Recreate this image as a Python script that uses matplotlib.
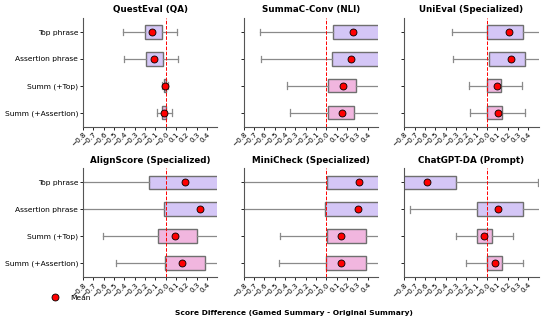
import numpy as np
import matplotlib.pyplot as plt
from matplotlib.lines import Line2D

metrics = ["QuestEval (QA)", "SummaC-Conv (NLI)", "UniEval (Specialized)",
           "AlignScore (Specialized)", "MiniCheck (Specialized)", "ChatGPT-DA (Prompt)"]
rows = ["Top phrase", "Assertion phrase", "Summ (+Top)", "Summ (+Assertion)"]

# per metric, per row: whisker low, q1, q3, whisker high, mean
whislo = [[-0.41, -0.40, -0.035, -0.08],
          [-0.64, -0.63, -0.38, -0.35],
          [-0.34, -0.325, -0.17, -0.16],
          [-0.95, -0.95, -0.61, -0.48],
          [-0.95, -0.95, -0.45, -0.455],
          [-0.95, -0.75, -0.30, -0.20]]
q1 = [[-0.20, -0.19, -0.015, -0.035],
      [0.06, 0.055, 0.02, 0.02],
      [0.0, 0.015, 0.0, 0.0],
      [-0.16, -0.015, -0.075, -0.005],
      [0.005, -0.01, 0.005, 0.0],
      [-0.85, -0.10, -0.10, 0.0]]
q3 = [[-0.035, -0.025, 0.005, 0.005],
      [0.55, 0.55, 0.29, 0.27],
      [0.345, 0.37, 0.14, 0.15],
      [0.6, 0.6, 0.30, 0.38],
      [0.6, 0.6, 0.38, 0.38],
      [-0.30, 0.35, 0.05, 0.15]]
whishi = [[0.11, 0.115, 0.025, 0.06],
          [0.9, 0.9, 0.7, 0.7],
          [0.7, 0.7, 0.34, 0.365],
          [0.9, 0.9, 0.7, 0.7],
          [0.9, 0.9, 0.7, 0.7],
          [0.49, 0.7, 0.25, 0.35]]
means = [[-0.135, -0.11, -0.005, -0.015],
         [0.255, 0.24, 0.16, 0.15],
         [0.215, 0.235, 0.095, 0.105],
         [0.19, 0.33, 0.085, 0.16],
         [0.315, 0.305, 0.145, 0.145],
         [-0.585, 0.105, -0.03, 0.075]]

colors = ["#d4c6f6", "#d4c6f6", "#f1b6df", "#f1b6df"]
ticks = np.arange(-0.8, 0.45, 0.1)

fig, axes = plt.subplots(2, 3, figsize=(5.43, 3.22), dpi=100)
fig.subplots_adjust(left=0.153, right=0.992, top=0.944, bottom=0.140,
                    wspace=0.196, hspace=0.385)

for k, ax in enumerate(axes.flat):
    stats = []
    for j in range(4):
        stats.append(dict(med=means[k][j], q1=q1[k][j], q3=q3[k][j],
                          whislo=whislo[k][j], whishi=whishi[k][j],
                          mean=means[k][j], fliers=[]))
    pos = [4, 3, 2, 1]
    bp = ax.bxp(stats, positions=pos, vert=False, widths=0.5, patch_artist=True,
                showmeans=True, showfliers=False, capwidths=0.25,
                boxprops=dict(edgecolor="#6f6f6f", linewidth=1.0),
                whiskerprops=dict(color="#8a8a8a", linewidth=0.9),
                capprops=dict(color="#8a8a8a", linewidth=0.9),
                medianprops=dict(linewidth=0),
                meanprops=dict(marker="o", markerfacecolor="red",
                               markeredgecolor="black", markeredgewidth=0.6,
                               markersize=5))
    for patch, c in zip(bp["boxes"], colors):
        patch.set_facecolor(c)
    ax.axvline(0, color="red", linestyle="--", linewidth=0.7)
    ax.set_xlim(-0.8, 0.5)
    ax.set_ylim(0.48, 4.52)
    ax.set_xticks(ticks)
    ax.set_xticklabels([f"{t:.1f}".replace("-", "\u2212") if abs(t) > 1e-9 else "\u22120.0"
                        for t in ticks], rotation=45, ha="right",
                       rotation_mode="anchor", fontsize=5.2)
    ax.set_yticks(pos)
    if k % 3 == 0:
        ax.set_yticklabels(rows, fontsize=5.4)
    else:
        ax.set_yticklabels([])
    ax.tick_params(axis="both", length=2, width=0.6, pad=1.5)
    ax.set_title(metrics[k], fontsize=6.3, fontweight="bold", pad=4)
    ax.spines["top"].set_visible(False)
    ax.spines["right"].set_visible(False)
    for s in ["left", "bottom"]:
        ax.spines[s].set_color("#555555")
        ax.spines[s].set_linewidth(0.8)

handle = Line2D([], [], marker="o", linestyle="none", markerfacecolor="red",
                markeredgecolor="black", markeredgewidth=0.6, markersize=5)
fig.legend([handle], ["Mean"], loc="center left", bbox_to_anchor=(0.075, 0.076),
           frameon=False, fontsize=5.4, handletextpad=1.0)
fig.text(0.541, 0.028, "Score Difference (Gamed Summary - Original Summary)",
         ha="center", va="center", fontsize=5.4, fontweight="bold")

fig.savefig("out.png", dpi=100)
